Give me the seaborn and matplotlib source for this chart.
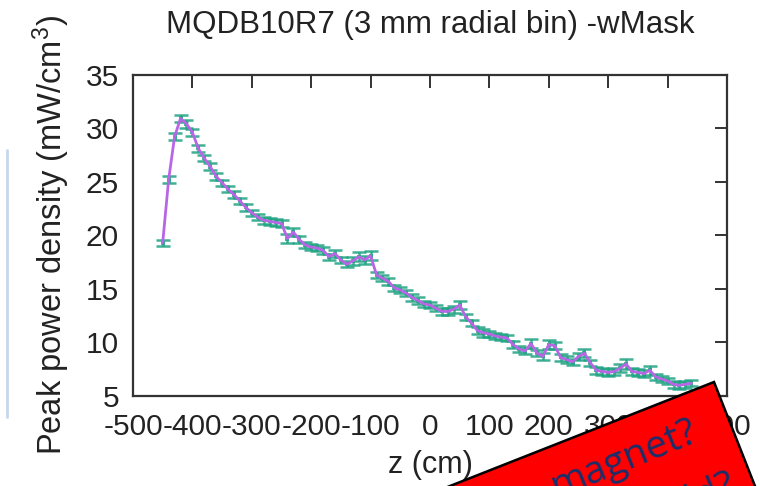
import numpy as np
import pandas as pd
import matplotlib
matplotlib.use("Agg")
import matplotlib.pyplot as plt
import seaborn as sns
from matplotlib.patches import Polygon
from matplotlib.lines import Line2D

# Peak power density profile along z (10 cm steps)
z_cm = list(range(-450, 450, 10))
peak_density = [
    19.3, 25.2, 29.2, 30.9, 30.4, 29.6, 28.1, 27.2, 26.4, 25.5,
    24.9, 24.3, 23.8, 23.2, 22.6, 22.1, 21.7, 21.4, 21.3, 21.2,
    21.1, 19.7, 20.3, 19.6, 19.1, 18.9, 18.8, 18.6, 18.0, 18.3,
    17.7, 17.3, 17.6, 18.0, 17.7, 18.1, 16.3, 16.0, 15.7, 15.1,
    14.9, 14.6, 14.2, 13.9, 13.6, 13.5, 13.2, 12.9, 12.9, 13.1,
    13.5, 12.4, 11.8, 11.1, 10.9, 10.8, 10.6, 10.5, 10.4, 9.8,
    9.4, 9.2, 9.9, 9.0, 8.7, 9.8, 9.7, 8.6, 8.4, 8.2,
    8.7, 9.0, 8.1, 7.4, 7.3, 7.2, 7.3, 7.6, 8.0, 7.3,
    7.2, 7.1, 7.4, 6.8, 6.6, 6.4, 6.1, 6.0, 6.1, 6.2,
]
density_err = [
    0.3, 0.3, 0.3, 0.35, 0.35, 0.35, 0.3, 0.3, 0.3, 0.3,
    0.3, 0.3, 0.3, 0.3, 0.3, 0.3, 0.3, 0.3, 0.3, 0.3,
    0.35, 0.4, 0.35, 0.35, 0.3, 0.3, 0.3, 0.3, 0.3, 0.35,
    0.3, 0.3, 0.35, 0.4, 0.35, 0.4, 0.3, 0.3, 0.3, 0.3,
    0.3, 0.3, 0.3, 0.3, 0.3, 0.3, 0.3, 0.3, 0.3, 0.35,
    0.4, 0.3, 0.3, 0.3, 0.35, 0.3, 0.3, 0.3, 0.3, 0.3,
    0.3, 0.3, 0.4, 0.3, 0.3, 0.4, 0.35, 0.3, 0.3, 0.3,
    0.35, 0.35, 0.3, 0.3, 0.3, 0.3, 0.3, 0.35, 0.45, 0.3,
    0.3, 0.3, 0.4, 0.3, 0.3, 0.3, 0.3, 0.3, 0.3, 0.3,
]
x_ticks = [-500, -400, -300, -200, -100, 0, 100, 200, 300, 400, 500]
y_ticks = [5, 10, 15, 20, 25, 30, 35]

df = pd.DataFrame({"z": z_cm, "density": peak_density, "err": density_err})

sns.set_theme(style="white")
plt.rcParams["font.family"] = ["Liberation Sans", "DejaVu Sans"]
plt.rcParams["mathtext.fontset"] = "custom"
plt.rcParams["mathtext.rm"] = "Liberation Sans"
plt.rcParams["mathtext.it"] = "Liberation Sans"

fig = plt.figure(figsize=(7.6, 4.86), dpi=100)
ax = fig.add_axes([0.175, 0.185, 0.7816, 0.6617])

line_col = "#B866E6"
err_col = "#1FA382"

ax.errorbar(df["z"], df["density"], yerr=df["err"], fmt="none",
            ecolor=err_col, elinewidth=1.8, capsize=5, capthick=1.8,
            alpha=0.85, zorder=2)
ax.scatter(df["z"], df["density"], s=12, marker="s", color=err_col,
           alpha=0.8, zorder=2, linewidths=0)
sns.lineplot(data=df, x="z", y="density", ax=ax, color=line_col,
             linewidth=2.0, zorder=3, errorbar=None)

ax.set_xlim(-500, 500)
ax.set_ylim(5, 35)
ax.set_xticks(x_ticks)
ax.set_yticks(y_ticks)
ax.set_xticklabels([str(v) for v in x_ticks])
ax.set_yticklabels([str(v) for v in y_ticks])
ax.tick_params(direction="in", length=9, width=1.4, color="#333333",
               top=True, right=True, labelsize=21.5, labelcolor="#222222")
ax.tick_params(axis="x", pad=12)
ax.tick_params(axis="y", pad=10)
for sp in ax.spines.values():
    sp.set_color("#333333")
    sp.set_linewidth(1.6)

ax.set_xlabel("z (cm)", fontsize=22, color="#222222", labelpad=7)
ax.set_ylabel(r"Peak power density (mW/cm$^3$)", fontsize=23.5,
              color="#222222", labelpad=10)
ax.set_title("MQDB10R7 (3 mm radial bin) -wMask", fontsize=22.5,
             color="#222222", pad=30)

W, H = 760.0, 486.0

def fig_pt(px, py):
    return (px / W, 1 - py / H)

# faint slide frame line at the left edge
fig.add_artist(Line2D([fig_pt(7, 0)[0]] * 2,
                      [fig_pt(0, 150)[1], fig_pt(0, 417)[1]],
                      color="#C8D6EE", linewidth=2))

# rotated red note box over the lower right corner
ang = np.deg2rad(21.5)
u = np.array([-np.cos(ang), np.sin(ang)])
v = np.array([np.sin(ang), np.cos(ang)])
A = np.array([714.0, 382.0])
corners = [A, A + 420 * u, A + 420 * u + 220 * v, A + 220 * v]
poly = Polygon([fig_pt(*c) for c in corners], closed=True,
               transform=fig.transFigure, facecolor="#FF0000",
               edgecolor="black", linewidth=1.8, zorder=10)
fig.add_artist(poly)

note_font = ["Open Sans", "DejaVu Sans"]
fig.text(*fig_pt(700, 440), "magnet?", rotation=22, rotation_mode="anchor",
         ha="right", va="baseline", fontsize=28, color="#1B2F6B",
         family=note_font, zorder=11)
fig.text(*fig_pt(738, 494), "or shield?", rotation=22, rotation_mode="anchor",
         ha="right", va="baseline", fontsize=28, color="#1B2F6B",
         family=note_font, zorder=11)

fig.savefig("out.png", dpi=100)
